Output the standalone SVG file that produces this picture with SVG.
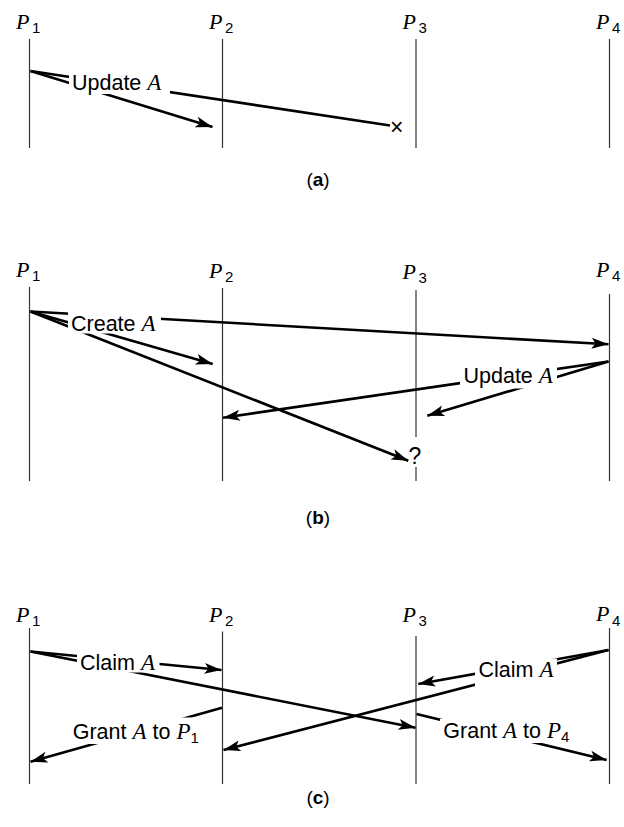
<svg xmlns="http://www.w3.org/2000/svg" width="624" height="827" viewBox="0 0 624 827">
<style>
.life{stroke:#333;stroke-width:1.2;fill:none}
.msg{stroke:#000;stroke-width:2.6;fill:none;stroke-linecap:butt}
.arr{marker-end:url(#ah)}
.bg{fill:#fff;stroke:none}
.lbl{font-family:"Liberation Sans",Arial,sans-serif;font-size:21.5px;fill:#000}
.it{font-family:"Liberation Serif","Times New Roman",serif;font-style:italic;font-size:23px}
.pn{font-family:"Liberation Serif","Times New Roman",serif;font-style:italic;font-size:22px;fill:#000}
.sub{font-family:"Liberation Sans",Arial,sans-serif;font-size:15px;fill:#000}
.cap{font-family:"Liberation Sans",Arial,sans-serif;font-size:19px;fill:#000;text-anchor:middle}
</style>
<defs>
<marker id="ah" viewBox="-18 -7 19 14" refX="0" refY="0" markerWidth="19" markerHeight="14" markerUnits="userSpaceOnUse" orient="auto">
<path d="M0,0 L-17,-5.5 L-13,0 L-17,5.5 Z" fill="#000"/>
</marker>
</defs>

<!-- Panel (a) -->
<g id="a-P1"><line class="life" x1="29.5" y1="39" x2="29.5" y2="148"/><text class="pn" x="16" y="28.5">P</text><text class="sub" x="32" y="32.5">1</text></g>
<g id="a-P2"><line class="life" x1="222.5" y1="39" x2="222.5" y2="148"/><text class="pn" x="209" y="28.5">P</text><text class="sub" x="225" y="32.5">2</text></g>
<g id="a-P3"><line class="life" x1="416" y1="39" x2="416" y2="148"/><text class="pn" x="402.5" y="28.5">P</text><text class="sub" x="418.5" y="32.5">3</text></g>
<g id="a-P4"><line class="life" x1="609.5" y1="39" x2="609.5" y2="148"/><text class="pn" x="596" y="28.5">P</text><text class="sub" x="612" y="32.5">4</text></g>
<g id="a-connectors">
<line class="msg arr" x1="30.5" y1="71" x2="212.5" y2="127"/>
<line class="msg" x1="30.5" y1="71" x2="390" y2="125.5"/>
</g>
<g id="a-labels">
<rect class="bg" x="69" y="73" width="101" height="21"/>
<text class="lbl" x="72" y="90">Update <tspan class="it">A</tspan></text>
<text class="lbl" x="390" y="135" style="font-size:23px">×</text>
</g>
<text class="cap" x="318" y="186">(<tspan font-weight="bold">a</tspan>)</text>

<!-- Panel (b) -->
<g id="b-P1"><line class="life" x1="29.5" y1="287" x2="29.5" y2="481"/><text class="pn" x="16" y="276.5">P</text><text class="sub" x="32" y="280.5">1</text></g>
<g id="b-P2"><line class="life" x1="222.5" y1="288" x2="222.5" y2="481"/><text class="pn" x="209" y="277.5">P</text><text class="sub" x="225" y="281.5">2</text></g>
<g id="b-P3"><line class="life" x1="416" y1="290" x2="416" y2="437"/><line class="life" x1="416" y1="467" x2="416" y2="481"/><text class="pn" x="402.5" y="278.5">P</text><text class="sub" x="418.5" y="282.5">3</text></g>
<g id="b-P4"><line class="life" x1="609.5" y1="294" x2="609.5" y2="481"/><text class="pn" x="596" y="276.5">P</text><text class="sub" x="612" y="280.5">4</text></g>
<g id="b-connectors">
<line class="msg arr" x1="30.5" y1="311.5" x2="608.5" y2="344.3"/>
<line class="msg arr" x1="30.5" y1="311.5" x2="212.7" y2="364"/>
<line class="msg arr" x1="30.5" y1="311.5" x2="408.3" y2="460.7"/>
<line class="msg arr" x1="608.5" y1="361.5" x2="223" y2="417.7"/>
<line class="msg arr" x1="608.5" y1="361.5" x2="427.3" y2="415.7"/>
</g>
<g id="b-labels">
<rect class="bg" x="68" y="312" width="93" height="21.5"/>
<text class="lbl" x="71" y="331">Create <tspan class="it">A</tspan></text>
<rect class="bg" x="460" y="364" width="97" height="24.5"/>
<text class="lbl" x="463.5" y="382.5">Update <tspan class="it">A</tspan></text>
<text class="lbl" x="408.5" y="464" style="font-size:23px">?</text>
</g>
<text class="cap" x="318" y="524">(<tspan font-weight="bold">b</tspan>)</text>

<!-- Panel (c) -->
<g id="c-P1"><line class="life" x1="29.5" y1="628" x2="29.5" y2="784"/><text class="pn" x="16" y="621.5">P</text><text class="sub" x="32" y="626">1</text></g>
<g id="c-P2"><line class="life" x1="222.5" y1="631.5" x2="222.5" y2="784"/><text class="pn" x="209" y="621.5">P</text><text class="sub" x="225" y="626">2</text></g>
<g id="c-P3"><line class="life" x1="416" y1="636" x2="416" y2="784"/><text class="pn" x="402.5" y="621.5">P</text><text class="sub" x="418.5" y="626">3</text></g>
<g id="c-P4"><line class="life" x1="609.5" y1="628" x2="609.5" y2="784"/><text class="pn" x="596" y="621">P</text><text class="sub" x="612" y="625.5">4</text></g>
<g id="c-connectors">
<line class="msg arr" x1="30.5" y1="651.5" x2="221.5" y2="670"/>
<line class="msg arr" x1="30.5" y1="651.5" x2="415.5" y2="727.7"/>
<line class="msg arr" x1="608.5" y1="650" x2="418.3" y2="684"/>
<line class="msg arr" x1="608.5" y1="650" x2="223.5" y2="750"/>
<line class="msg arr" x1="222" y1="707.7" x2="30.5" y2="761.7"/>
<line class="msg arr" x1="416.5" y1="714" x2="606.7" y2="760"/>
</g>
<g id="c-labels">
<rect class="bg" x="77" y="653.5" width="82.5" height="19"/>
<text class="lbl" x="80" y="669.5">Claim <tspan class="it">A</tspan></text>
<rect class="bg" x="475" y="658.5" width="82" height="27.5"/>
<text class="lbl" x="478.5" y="677.3">Claim <tspan class="it">A</tspan></text>
<rect class="bg" x="70" y="717.5" width="137" height="26.5"/>
<text class="lbl" x="72.7" y="739.3">Grant <tspan class="it">A</tspan> to <tspan class="it">P</tspan><tspan dy="4" style="font-size:15px">1</tspan></text>
<rect class="bg" x="440" y="719" width="140" height="24"/>
<text class="lbl" x="443.3" y="738.3">Grant <tspan class="it">A</tspan> to <tspan class="it">P</tspan><tspan dy="4" style="font-size:15px">4</tspan></text>
</g>
<text class="cap" x="318" y="804">(<tspan font-weight="bold">c</tspan>)</text>
</svg>
